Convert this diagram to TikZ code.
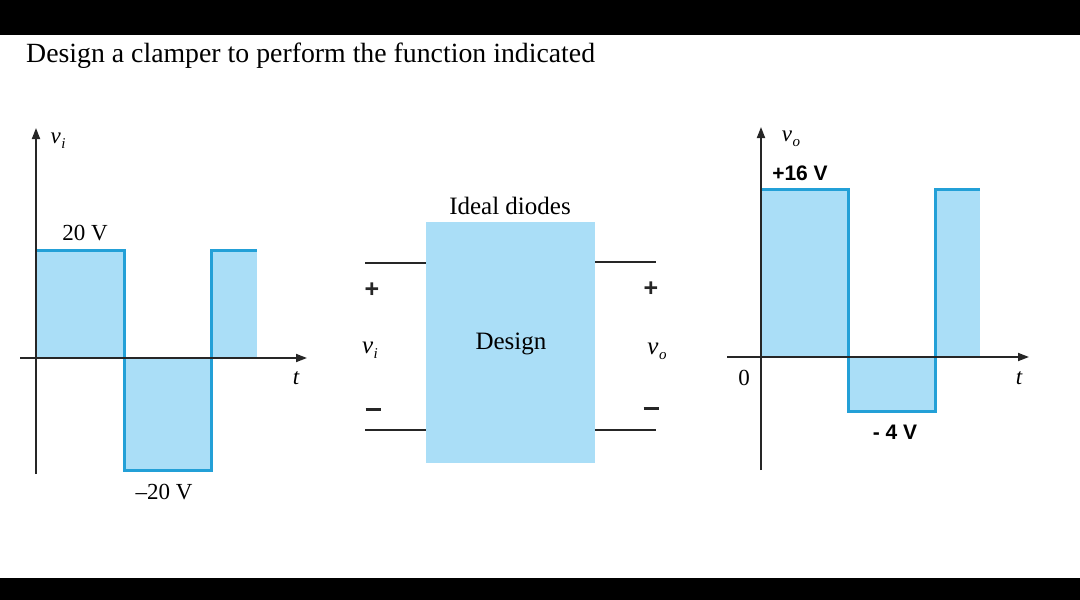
\documentclass[tikz,border=0pt]{standalone}
\usepackage{fontspec}
\setmainfont{Liberation Serif}
\newfontfamily\sansfam{Liberation Sans}
\usetikzlibrary{arrows.meta}
\definecolor{wavefill}{RGB}{170,222,247}
\definecolor{waveline}{RGB}{35,160,215}
\newcommand{\vsub}[1]{{\itshape v\kern0.5pt\raisebox{-5pt}{\fontsize{15}{15}\selectfont #1}}}
\newcommand{\minusbar}{\rule{15pt}{3pt}}
\begin{document}
\begin{tikzpicture}[x=1pt,y=-1pt,
  axis/.style={line width=1.8pt, black!85, -{Triangle[length=11pt,width=8pt]}},
  wave/.style={line width=3pt, waveline, line join=miter},
  area/.style={fill=wavefill, draw=none},
  wire/.style={line width=1.8pt, black!85},
  lbl/.style={font=\fontsize{23}{23}\selectfont, inner sep=0pt},
  sanslbl/.style={font=\sansfam\bfseries\fontsize{21}{21}\selectfont, inner sep=0pt},
  midlbl/.style={font=\fontsize{25}{25}\selectfont, inner sep=0pt},
  sign/.style={font=\sansfam\bfseries\fontsize{25}{25}\selectfont, inner sep=0pt, text=black!85}
]
\useasboundingbox (0,0) rectangle (1080,600);
\fill[black] (0,0) rectangle (1080,35);
\fill[black] (0,578) rectangle (1080,600);

% title
\node[anchor=west, inner sep=0pt, font=\fontsize{27.8}{27.8}\selectfont] (title) at (26,56) {Design a clamper to perform the function indicated};

% ---------- left graph ----------
\fill[area] (37,250) rectangle (124,358);
\fill[area] (124,358) rectangle (211,470);
\fill[area] (211,250) rectangle (257,358);
\draw[wave] (37,250) -- (124,250) -- (124,470) -- (211,470) -- (211,250) -- (257,250);
\coordinate (lyb) at (36,474);
\coordinate (lyt) at (36,128);
\coordinate (lxl) at (20,358);
\coordinate (lxr) at (307,358);
\draw[axis] (lyb) -- (lyt);
\draw[axis] (lxl) -- (lxr);
\node[lbl] (lvi) at (58,141) {\vsub{i}};
\node[lbl] (lt) at (296,378) {\itshape t};
\node[lbl] (l20) at (85,233) {20 V};
\node[lbl] (lm20) at (164,492) {\textendash20 V};

% ---------- middle block ----------
\node[area, minimum width=169pt, minimum height=241pt, inner sep=0pt] (box) at (510.5,342.5) {};
\node[midlbl] (design) at (511,344) {Design};
\node[midlbl] (ideal) at (510,206) {Ideal diodes};
\coordinate (inT) at (365,263);
\coordinate (inB) at (365,430);
\coordinate (outT) at (656,262);
\coordinate (outB) at (656,430);
\draw[wire] (inT) -- (inT -| box.west);
\draw[wire] (inB) -- (inB -| box.west);
\draw[wire] (outT -| box.east) -- (outT);
\draw[wire] (outB -| box.east) -- (outB);
\node[sign] (ip) at (372,290) {+};
\node[sign] (im) at (373,409) {\minusbar};
\node[midlbl] (ivi) at (370,350) {\vsub{i}};
\node[sign] (op) at (651,289) {+};
\node[sign] (om) at (651,408) {\minusbar};
\node[midlbl] (ovo) at (657,351) {\vsub{o}};

% ---------- right graph ----------
\fill[area] (762,189) rectangle (848,357);
\fill[area] (848,357) rectangle (935,411);
\fill[area] (935,189) rectangle (980,357);
\draw[wave] (762,189) -- (848,189) -- (848,411) -- (935,411) -- (935,189) -- (980,189);
\coordinate (ryb) at (761,470);
\coordinate (ryt) at (761,127);
\coordinate (rxl) at (727,357);
\coordinate (rxr) at (1029,357);
\draw[axis] (ryb) -- (ryt);
\draw[axis] (rxl) -- (rxr);
\node[lbl] (rvo) at (791,139) {\vsub{o}};
\node[lbl] (rt) at (1019,378) {\itshape t};
\node[lbl] (r0) at (744,378) {0};
\node[sanslbl] (r16) at (800,173) {+16 V};
\node[sanslbl] (rm4) at (895,432) {- 4 V};
\end{tikzpicture}
\end{document}
